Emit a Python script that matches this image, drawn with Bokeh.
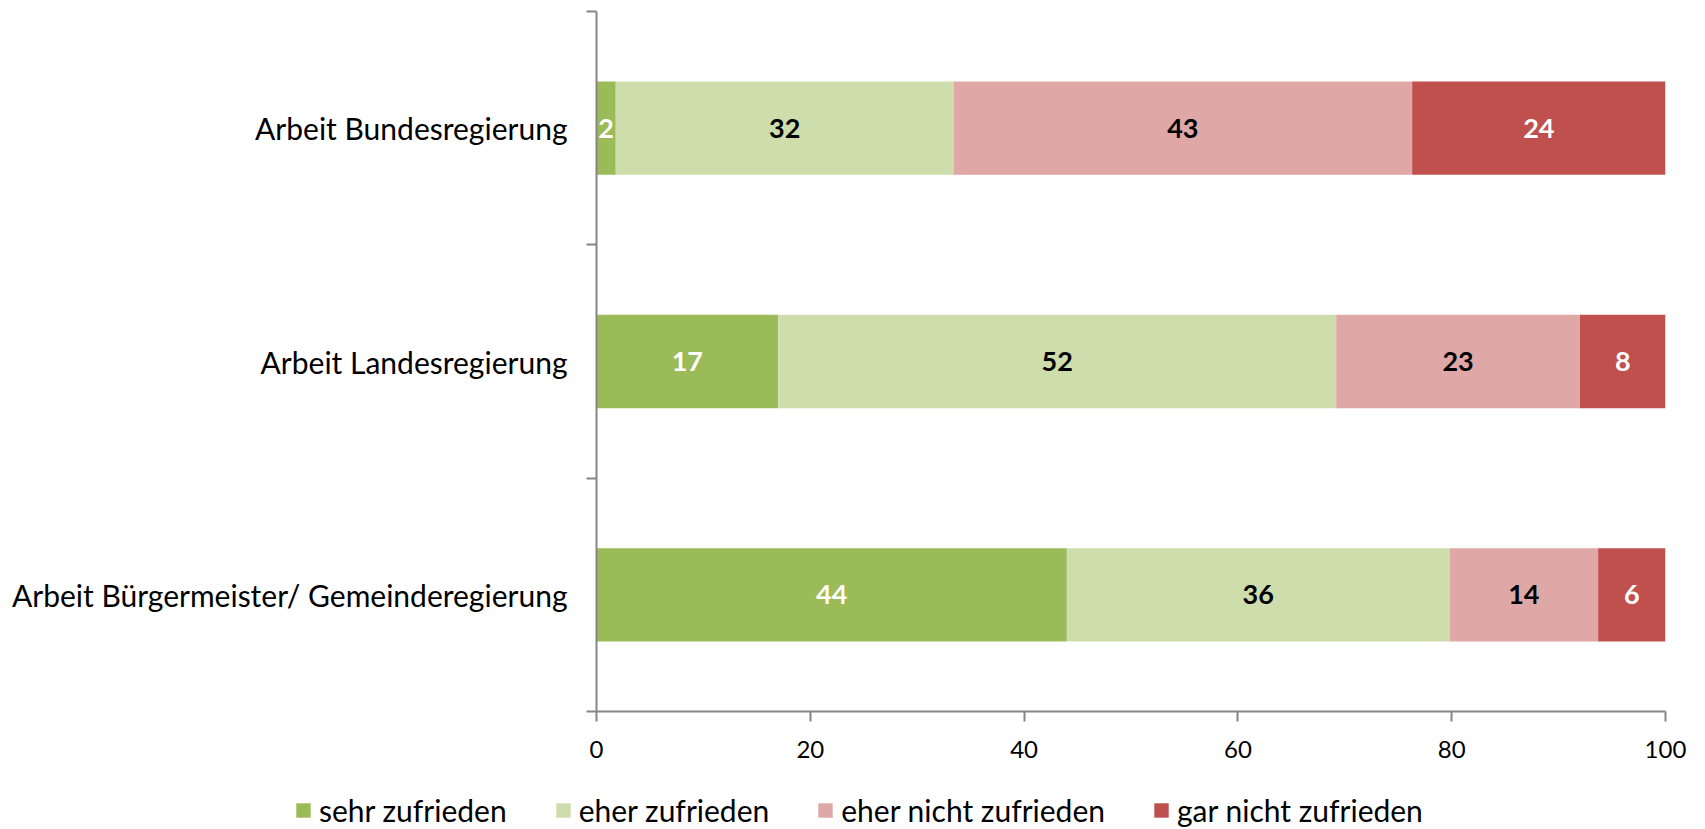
from bokeh.plotting import figure
from bokeh.layouts import column, row
from bokeh.models import ColumnDataSource, FixedTicker, Legend, LegendItem
from bokeh.core.properties import value
from bokeh.embed import file_html
from bokeh.resources import INLINE
import numpy as np

# ---- data ----
categories = ["Arbeit Bundesregierung", "Arbeit Landesregierung",
              "Arbeit Bürgermeister/ Gemeinderegierung"]
series_names = ["sehr zufrieden", "eher zufrieden", "eher nicht zufrieden", "gar nicht zufrieden"]
sehr_zufrieden = [1.8, 17.0, 44.0]
eher_zufrieden = [31.6, 52.2, 35.8]
eher_nicht_zufrieden = [42.9, 22.8, 13.9]
gar_nicht_zufrieden = [23.7, 8.0, 6.3]
x_ticks = [0, 20, 40, 60, 80, 100]

colors = ["#9BBB59", "#CEDDAC", "#DFA7A6", "#C0504D"]
label_colors = ["white", "black", "black", "white"]
FONT = "Lato"
AX = "#868686"

n = len(categories)
ypos = [n - i - 0.5 for i in range(n)]
keys = ["s0", "s1", "s2", "s3"]
series = [sehr_zufrieden, eher_zufrieden, eher_nicht_zufrieden, gar_nicht_zufrieden]
data = {"y": ypos}
for k, s in zip(keys, series):
    data[k] = s
src = ColumnDataSource(data)

W = 1697
p = figure(width=W, height=784, x_range=(0, 100), y_range=(0, n),
           output_backend="svg", toolbar_location=None,
           min_border_left=596, min_border_right=32, min_border_top=11, min_border_bottom=73)
p.outline_line_color = None
p.xgrid.visible = False
p.ygrid.visible = False

rs = p.hbar_stack(keys, y="y", height=0.4, color=colors, line_color=None, source=src)

# data labels
cum = np.zeros(n)
for s, tc in zip(series, label_colors):
    arr = np.array(s)
    mids = cum + arr / 2
    lab = [str(int(round(v))) for v in arr]
    p.text(x=list(mids), y=ypos, text=lab, text_align="center", text_baseline="middle",
           text_font=value(FONT), text_font_style="bold", text_font_size="27px",
           text_color=tc)
    cum = cum + arr

# x axis
xa = p.xaxis[0]
xa.ticker = FixedTicker(ticks=x_ticks)
xa.axis_line_color = AX
xa.axis_line_width = 2
xa.major_tick_line_color = AX
xa.major_tick_line_width = 2
xa.major_tick_out = 10
xa.major_tick_in = 0
xa.minor_tick_line_color = None
xa.major_label_text_font = FONT
xa.major_label_text_font_size = "24px"
xa.major_label_text_color = "black"
xa.major_label_standoff = 19

# y axis
ya = p.yaxis[0]
ya.ticker = FixedTicker(ticks=ypos, minor_ticks=list(range(n + 1)))
ya.major_label_overrides = {y: c for y, c in zip(ypos, categories)}
ya.axis_line_color = AX
ya.axis_line_width = 2
ya.major_tick_line_color = None
ya.major_tick_out = 0
ya.major_tick_in = 0
ya.minor_tick_line_color = AX
ya.minor_tick_line_width = 2
ya.minor_tick_out = 10
ya.minor_tick_in = 0
ya.major_label_text_font = FONT
ya.major_label_text_font_size = "30px"
ya.major_label_text_color = "black"
ya.major_label_standoff = 19

# legend strip: its own plot whose frame spans the full width; the bars it holds
# lie outside its y range, so only the legend shows
pl = figure(width=W, height=44, x_range=(0, 100), y_range=(10, 11),
            output_backend="svg", toolbar_location=None,
            x_axis_type=None, y_axis_type=None,
            min_border_left=0, min_border_right=0, min_border_top=0, min_border_bottom=0)
pl.outline_line_color = None
pl.xgrid.visible = False
pl.ygrid.visible = False
rl = pl.hbar_stack(keys, y="y", height=0.4, color=colors, line_color=None, source=src)
legend = Legend(items=[LegendItem(label=nm, renderers=[r]) for nm, r in zip(series_names, rl)],
                orientation="horizontal", location=(294, 0),
                glyph_width=18, glyph_height=18, label_standoff=7, spacing=47,
                padding=0, margin=0, border_line_alpha=0, background_fill_alpha=0,
                label_text_font=FONT, label_text_font_size="30px", label_text_color="black")
pl.add_layout(legend, "center")

layout = column(p, row(pl, spacing=0), spacing=0)
open("out.html", "w").write(file_html(layout, INLINE))
